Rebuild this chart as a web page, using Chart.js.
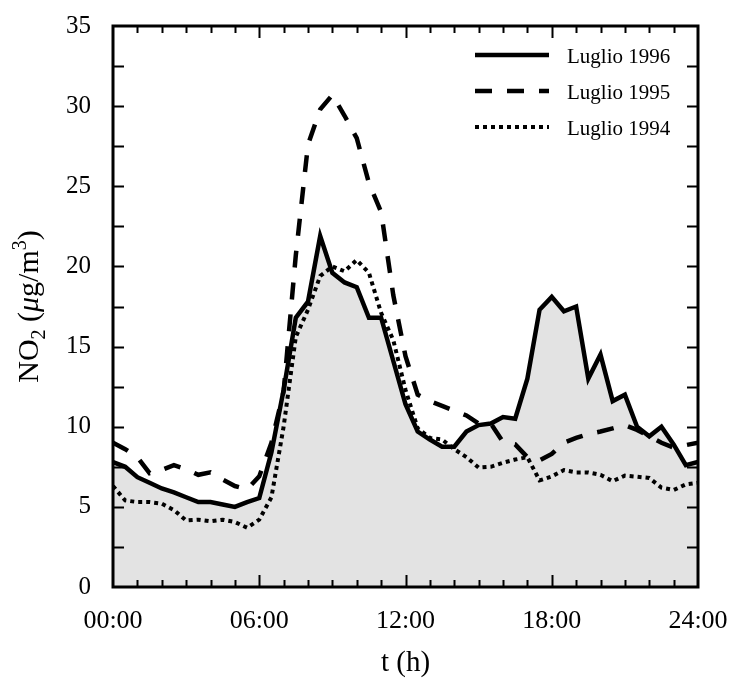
<!DOCTYPE html>
<html>
<head>
<meta charset="utf-8">
<script src="https://cdn.jsdelivr.net/npm/chart.js@4.4.1/dist/chart.umd.min.js"></script>
<style>
  html, body { margin: 0; padding: 0; background: #fff; }
  #chart { display: block; }
</style>
</head>
<body>
<canvas id="chart" width="730" height="679"></canvas>
<script>
// half-hourly NO2 averages, July
const hours = [0, 0.5, 1, 1.5, 2, 2.5, 3, 3.5, 4, 4.5, 5, 5.5, 6, 6.5, 7, 7.5, 8, 8.5, 9, 9.5,
  10, 10.5, 11, 11.5, 12, 12.5, 13, 13.5, 14, 14.5, 15, 15.5, 16, 16.5, 17, 17.5, 18, 18.5, 19, 19.5,
  20, 20.5, 21, 21.5, 22, 22.5, 23, 23.5, 24];

const luglio1996 = [7.8, 7.5, 6.85, 6.5, 6.15, 5.9, 5.6, 5.3, 5.3, 5.15, 5.0, 5.3, 5.55, 8.4, 12.3, 16.8, 17.8, 21.9, 19.6, 19.0,
  18.7, 16.8, 16.8, 14.1, 11.4, 9.7, 9.2, 8.75, 8.75, 9.7, 10.1, 10.2, 10.6, 10.5, 13.0, 17.3, 18.1, 17.2, 17.5, 13.0,
  14.5, 11.6, 12.0, 10.0, 9.4, 10.0, 8.9, 7.6, 7.8];

const luglio1995 = [9.0, 8.6, 8.1, 7.1, 7.3, 7.6, 7.35, 7.0, 7.15, 6.7, 6.3, 6.1, 6.9, 9.0, 12.2, 20.7, 27.6, 29.8, 30.7, 29.4,
  28.0, 25.2, 23.4, 18.2, 14.4, 12.0, 11.6, 11.3, 11.0, 10.7, 10.2, 10.2, 9.05, 8.9, 8.1, 7.9, 8.3, 9.0, 9.3, 9.55,
  9.7, 9.9, 10.1, 9.8, 9.4, 9.0, 8.7, 8.85, 9.0];

const luglio1994 = [6.3, 5.4, 5.3, 5.3, 5.2, 4.8, 4.15, 4.2, 4.1, 4.2, 4.05, 3.7, 4.2, 5.6, 10.0, 15.6, 17.3, 19.4, 20.0, 19.7,
  20.4, 19.6, 17.1, 15.4, 12.3, 9.9, 9.3, 9.2, 8.6, 8.1, 7.45, 7.5, 7.75, 7.95, 8.1, 6.65, 6.9, 7.3, 7.15, 7.15,
  7.0, 6.6, 6.95, 6.88, 6.8, 6.2, 6.05, 6.4, 6.5];

const seriesLabels = ["Luglio 1996", "Luglio 1995", "Luglio 1994"];
const xTickLabels = ["00:00", "06:00", "12:00", "18:00", "24:00"];

const serif = "'Liberation Serif', 'Times New Roman', serif";

const toPoints = (vals) => hours.map((h, i) => ({ x: h, y: vals[i] }));

// inward ticks on all four sides + box frame
const frameTicks = {
  id: "frameTicks",
  afterDatasetsDraw(chart) {
    const { ctx, chartArea: a, scales: { x, y } } = chart;
    ctx.save();
    ctx.strokeStyle = "#000";
    ctx.lineWidth = 2;
    ctx.beginPath();
    for (let h = 1; h < 24; h++) {
      const px = Math.round(x.getPixelForValue(h)) + 0.5;
      const len = h % 6 === 0 ? 12 : 7;
      ctx.moveTo(px, a.bottom); ctx.lineTo(px, a.bottom - len);
      ctx.moveTo(px, a.top); ctx.lineTo(px, a.top + len);
    }
    for (let v = 2.5; v < 35; v += 2.5) {
      const py = Math.round(y.getPixelForValue(v)) + 0.5;
      ctx.moveTo(a.left, py); ctx.lineTo(a.left + 11, py);
      ctx.moveTo(a.right, py); ctx.lineTo(a.right - 11, py);
    }
    ctx.stroke();
    ctx.lineWidth = 3;
    ctx.strokeRect(a.left, a.top, a.right - a.left, a.bottom - a.top);
    ctx.restore();
  }
};

// legend, axis titles (with sub/superscripts)
const annotations = {
  id: "annotations",
  afterDraw(chart) {
    const { ctx, chartArea: a } = chart;
    ctx.save();
    ctx.fillStyle = "#000";
    ctx.strokeStyle = "#000";

    // legend
    chart.data.datasets.forEach((ds, i) => {
      const yy = a.top + 29 + i * 36;
      ctx.lineWidth = ds.borderWidth;
      ctx.lineCap = "butt";
      ctx.setLineDash(ds.borderDash || []);
      ctx.beginPath();
      ctx.moveTo(a.right - 223, yy);
      ctx.lineTo(a.right - 149, yy);
      ctx.stroke();
      ctx.setLineDash([]);
      ctx.font = "21px " + serif;
      ctx.textAlign = "left";
      ctx.textBaseline = "middle";
      ctx.fillText(ds.label, a.right - 131, yy + 2);
    });

    // x title
    ctx.font = "29px " + serif;
    ctx.textAlign = "center";
    ctx.textBaseline = "middle";
    ctx.fillText("t (h)", (a.left + a.right) / 2, 663);

    // y title: NO2 (µg/m3)
    const big = "30px " + serif;
    const small = "20px " + serif;
    const ital = "italic 30px " + serif;
    const parts = [
      { t: "NO", f: big, dy: 0 },
      { t: "2", f: small, dy: 7 },
      { t: " (", f: big, dy: 0 },
      { t: "\u03BC", f: ital, dy: 0 },
      { t: "g/m", f: big, dy: 0 },
      { t: "3", f: small, dy: -12 },
      { t: ")", f: big, dy: 0 }
    ];
    let total = 0;
    parts.forEach(p => { ctx.font = p.f; p.w = ctx.measureText(p.t).width; total += p.w; });
    ctx.translate(38, (a.top + a.bottom) / 2);
    ctx.rotate(-Math.PI / 2);
    ctx.textAlign = "left";
    ctx.textBaseline = "alphabetic";
    let cx = -total / 2;
    parts.forEach(p => {
      ctx.font = p.f;
      ctx.fillText(p.t, cx, p.dy);
      cx += p.w;
    });
    ctx.restore();
  }
};

const ctx = document.getElementById("chart").getContext("2d");
new Chart(ctx, {
  type: "line",
  data: {
    datasets: [
      {
        label: seriesLabels[0],
        data: toPoints(luglio1996),
        borderColor: "#000",
        borderWidth: 4.5,
        borderJoinStyle: "miter",
        backgroundColor: "#e3e3e3",
        fill: "origin"
      },
      {
        label: seriesLabels[1],
        data: toPoints(luglio1995),
        borderColor: "#000",
        borderWidth: 4.5,
        borderDash: [17, 15],
        borderCapStyle: "butt",
        fill: false
      },
      {
        label: seriesLabels[2],
        data: toPoints(luglio1994),
        borderColor: "#000",
        borderWidth: 4,
        borderDash: [4, 4],
        borderCapStyle: "butt",
        fill: false
      }
    ]
  },
  options: {
    responsive: false,
    animation: false,
    layout: { padding: { left: 0, right: 32, top: 26, bottom: 0 } },
    elements: { point: { radius: 0 }, line: { tension: 0 } },
    plugins: {
      legend: { display: false },
      tooltip: { enabled: false },
      filler: { drawTime: "beforeDatasetsDraw" }
    },
    scales: {
      x: {
        type: "linear",
        min: 0,
        max: 24,
        // invisible tick marks just to push the labels away from the axis
        grid: { display: true, drawOnChartArea: false, drawTicks: true, tickLength: 19, color: "rgba(0,0,0,0)" },
        border: { display: false },
        ticks: {
          stepSize: 6,
          padding: 0,
          color: "#000",
          maxRotation: 0,
          font: { family: serif, size: 26 },
          callback: (v) => xTickLabels[v / 6]
        },
        afterFit: (s) => { s.height = 92; }
      },
      y: {
        min: 0,
        max: 35,
        grid: { display: true, drawOnChartArea: false, drawTicks: true, tickLength: 22, color: "rgba(0,0,0,0)" },
        border: { display: false },
        ticks: {
          stepSize: 5,
          padding: 0,
          color: "#000",
          font: { family: serif, size: 25 }
        },
        afterFit: (s) => { s.width = 113; }
      }
    }
  },
  plugins: [frameTicks, annotations]
});
</script>
</body>
</html>
